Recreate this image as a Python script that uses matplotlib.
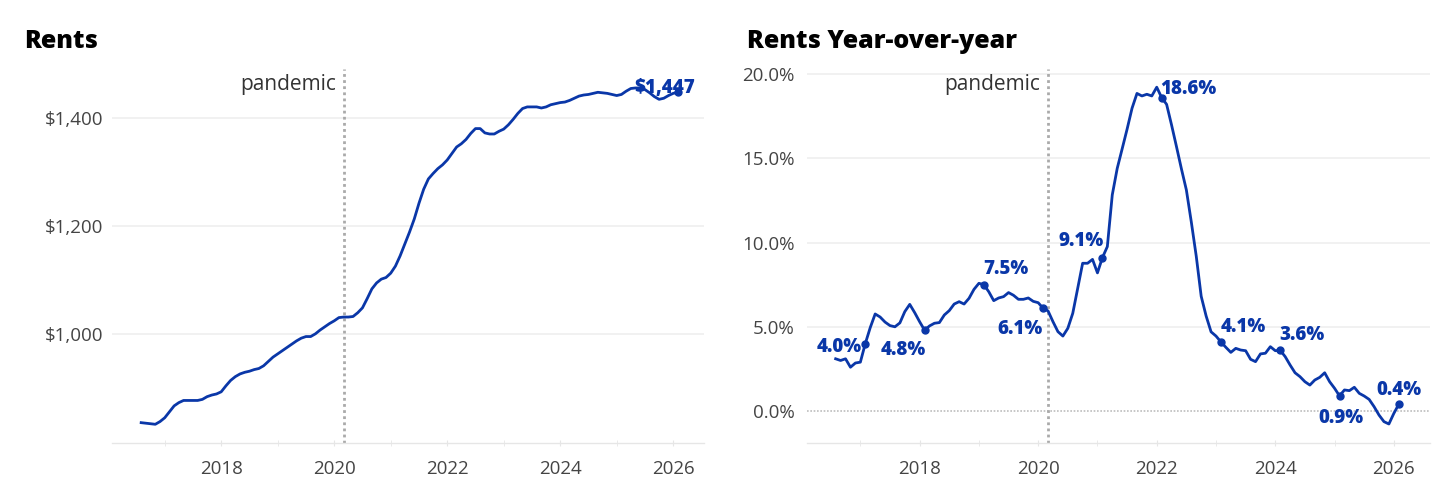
import matplotlib
matplotlib.use("Agg")
import matplotlib.pyplot as plt
import numpy as np
import pandas as pd
from matplotlib.ticker import FuncFormatter, FixedLocator

plt.rcParams['font.family'] = ['Open Sans', 'DejaVu Sans']

# ---------------- data ----------------
start_month = "2016-07"
end_month = "2026-01"

rents = [
    837, 836, 835, 834, 839, 846,                                   # 2016 Jul-Dec
    857, 868, 874, 878, 878, 878, 878, 880, 885, 888, 890, 894,     # 2017
    905, 915, 922, 927, 930, 932, 935, 937, 942, 950, 958, 964,     # 2018
    970, 976, 982, 988, 993, 996, 996, 1001, 1008, 1014, 1020, 1025,  # 2019
    1031, 1032, 1032, 1033, 1040, 1049, 1066, 1084, 1095, 1102, 1105, 1113,  # 2020
    1126, 1145, 1167, 1189, 1213, 1242, 1268, 1287, 1297, 1306, 1313, 1322,  # 2021
    1334, 1346, 1352, 1360, 1371, 1380, 1380, 1372, 1370, 1370, 1375, 1379,  # 2022
    1387, 1397, 1408, 1417, 1420, 1420, 1420, 1418, 1420, 1424, 1426, 1428,  # 2023
    1429, 1432, 1436, 1440, 1442, 1443, 1445, 1447, 1446, 1445, 1443, 1441,  # 2024
    1443, 1449, 1454, 1455, 1455, 1452, 1446, 1439, 1434, 1436, 1441, 1445,  # 2025
    1447,                                                            # 2026 Jan
]

yoy = [
    3.1, 3.0, 3.1, 2.6, 2.85, 2.9,                                   # 2016 Jul-Dec
    4.0, 4.95, 5.76, 5.58, 5.28, 5.07, 5.0, 5.23, 5.9, 6.33, 5.84, 5.3,   # 2017
    4.8, 5.05, 5.21, 5.25, 5.7, 5.96, 6.35, 6.49, 6.35, 6.69, 7.22, 7.58,  # 2018
    7.5, 7.08, 6.55, 6.71, 6.79, 7.03, 6.87, 6.63, 6.63, 6.71, 6.51, 6.43,  # 2019
    6.1, 5.94, 5.3, 4.71, 4.45, 4.91, 5.8, 7.28, 8.77, 8.77, 9.0, 8.2,     # 2020
    9.1, 9.76, 12.83, 14.4, 15.56, 16.73, 17.97, 18.85, 18.7, 18.8, 18.7, 19.22,  # 2021
    18.6, 18.2, 16.98, 15.69, 14.37, 13.12, 11.22, 9.19, 6.81, 5.64, 4.7, 4.45,   # 2022
    4.1, 3.78, 3.48, 3.72, 3.62, 3.58, 3.07, 2.93, 3.39, 3.43, 3.82, 3.58,  # 2023
    3.6, 3.23, 2.73, 2.27, 2.04, 1.74, 1.54, 1.84, 2.0, 2.27, 1.74, 1.35,  # 2024
    0.9, 1.25, 1.21, 1.41, 1.05, 0.89, 0.69, 0.26, -0.24, -0.63, -0.77, -0.14,  # 2025
    0.4,                                                             # 2026 Jan
]

label_years = [2017, 2018, 2019, 2020, 2021, 2022, 2023, 2024, 2025, 2026]

left_yticks = [1000, 1200, 1400]
right_yticks = [0, 5, 10, 15, 20]
xticks = [2018, 2020, 2022, 2024, 2026]
pandemic_x = 2020 + 2 / 12

titles = ["Rents", "Rents Year-over-year"]

# ---------------- style ----------------
BLUE = "#0a37a8"
GRID = "#efefef"
TICKC = "#444444"
LABEL_FS = 13.5
PX = 0.72  # points per pixel at dpi 100

dates = pd.date_range(start_month, end_month, freq="MS")
x = dates.year + dates.month / 12.0

W, H = 1455, 499
fig = plt.figure(figsize=(W / 100, H / 100), dpi=100)

def px_axes(l, r, b, t):
    return fig.add_axes([l / W, 1 - b / H, (r - l) / W, (b - t) / H])

axL = px_axes(112, 704, 442.7, 69)
axR = px_axes(807, 1430, 442.7, 69)

def style(ax):
    for s in ["top", "right", "left"]:
        ax.spines[s].set_visible(False)
    ax.spines["bottom"].set_color("#e6e6e6")
    ax.spines["bottom"].set_linewidth(1.0)
    ax.xaxis.set_major_locator(FixedLocator(xticks))
    ax.xaxis.set_minor_locator(FixedLocator(list(range(2017, 2027))))
    ax.tick_params(axis="x", which="both", length=5, color="#e6e6e6",
                   direction="inout", labelsize=13.5, labelcolor=TICKC, pad=10)
    ax.tick_params(axis="y", length=0, labelsize=13.5, labelcolor=TICKC)
    ax.xaxis.set_major_formatter(FuncFormatter(lambda v, p: f"{int(v)}"))

cap_half = LABEL_FS / PX * 0.714 / 2

# Left chart
style(axL)
axL.set_xlim(2016.067, 2026.545)
axL.set_ylim(800, 1490)
axL.yaxis.set_major_locator(FixedLocator(left_yticks))
axL.yaxis.set_major_formatter(FuncFormatter(lambda v, p: f"${v:,.0f}"))
axL.tick_params(axis="y", pad=6)
for v in left_yticks:
    axL.axhline(v, color=GRID, lw=1.2, zorder=0)
axL.axvline(pandemic_x, color="#aaaaaa", lw=2, ls=(0, (1, 1.2)), zorder=1)
axL.plot(x, rents, color=BLUE, lw=2.0, zorder=3, solid_joinstyle="round")
axL.plot([x[-1]], [rents[-1]], "o", color=BLUE, ms=5, zorder=4)
axL.annotate(f"${rents[-1]:,.0f}", (x[-1], rents[-1]),
             xytext=(-13 * PX, (6 - cap_half) * PX),
             textcoords="offset points", ha="center", va="baseline",
             fontsize=LABEL_FS, fontweight="heavy", color=BLUE, zorder=5)
axL.annotate("pandemic", (pandemic_x, 0.9625), xycoords=("data", "axes fraction"),
             xytext=(-8 * PX, -7 * PX), textcoords="offset points",
             ha="right", va="baseline", fontsize=15, color="#333333")

# Right chart
style(axR)
axR.set_xlim(2016.10, 2026.61)
axR.set_ylim(-1.88, 20.3)
axR.yaxis.set_major_locator(FixedLocator(right_yticks))
axR.yaxis.set_major_formatter(FuncFormatter(lambda v, p: f"{v:.1f}%"))
axR.tick_params(axis="y", pad=9)
for v in right_yticks:
    if v == 0:
        axR.axhline(v, color="#bdbdbd", lw=1.2, ls=(0, (1, 1)), zorder=0)
    else:
        axR.axhline(v, color=GRID, lw=1.2, zorder=0)
axR.axvline(pandemic_x, color="#aaaaaa", lw=2, ls=(0, (1, 1.2)), zorder=1)
axR.plot(x, yoy, color=BLUE, lw=2.0, zorder=3, solid_joinstyle="round")
axR.annotate("pandemic", (pandemic_x, 0.9625), xycoords=("data", "axes fraction"),
             xytext=(-8 * PX, -7 * PX), textcoords="offset points",
             ha="right", va="baseline", fontsize=15, color="#333333")

# label placement: (ha, dx px, dy px of text centre relative to point)
placements = [
    ("right", -4, -2), ("right", 1, -18), ("left", -1, 17), ("right", 0, -19),
    ("right", 1, 18), ("left", -1, 10), ("left", 0, 17), ("left", -1, 17),
    ("center", 1, -20), ("center", 0, 16),
]
keys = list(dates.year * 100 + dates.month)
for yr, (ha, dx, dy) in zip(label_years, placements):
    i = keys.index(yr * 100 + 1)
    axR.plot([x[i]], [yoy[i]], "o", color=BLUE, ms=5, zorder=4)
    axR.annotate(f"{yoy[i]:.1f}%", (x[i], yoy[i]),
                 xytext=(dx * PX, (dy - cap_half) * PX), textcoords="offset points",
                 ha=ha, va="baseline", fontsize=LABEL_FS, fontweight="heavy",
                 color=BLUE, zorder=5)

# Titles
fig.text(24 / W, 1 - 48 / H, titles[0], fontsize=18, fontweight="heavy",
         color="black", ha="left", va="baseline")
fig.text(747 / W, 1 - 48 / H, titles[1], fontsize=18, fontweight="heavy",
         color="black", ha="left", va="baseline")

fig.savefig("out.png", dpi=100, facecolor="white")
